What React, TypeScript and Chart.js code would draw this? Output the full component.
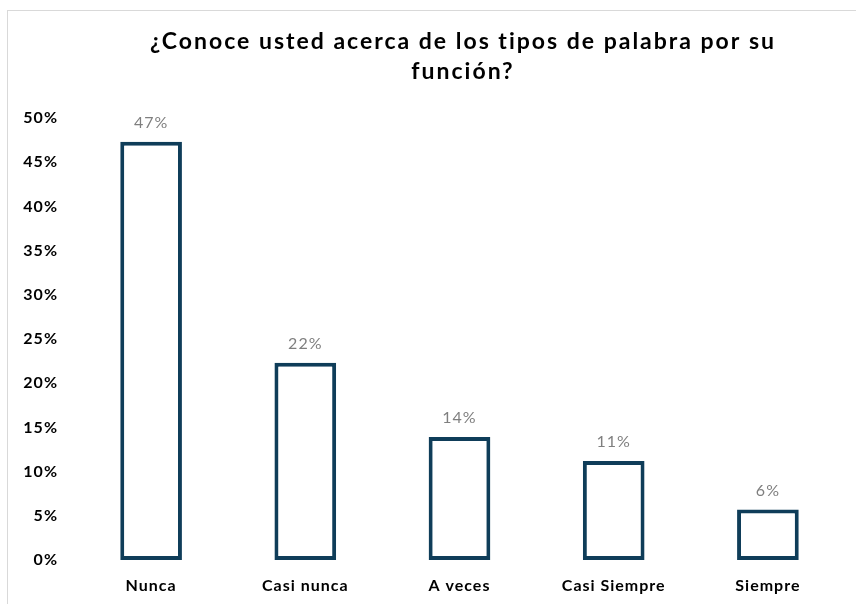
import React, { useEffect, useRef } from "react";
import { Chart, registerables } from "chart.js";

Chart.register(...registerables);

const TITLE = ["¿Conoce usted acerca de los tipos de palabra por su", "función?"];
const CATEGORIES = ["Nunca", "Casi nunca", "A veces", "Casi Siempre", "Siempre"];
const VALUES = [47.3, 22.3, 13.9, 11.2, 5.7];
const VALUE_LABELS = ["47%", "22%", "14%", "11%", "6%"];

const FONT = "Lato, 'Open Sans', sans-serif";

const spacingPlugin = {
  id: "letterSpacing",
  beforeInit(chart: any) {
    chart.ctx.letterSpacing = "1px";
  },
  beforeLayout(chart: any) {
    chart.ctx.letterSpacing = "1px";
  },
  beforeDraw(chart: any) {
    chart.ctx.letterSpacing = "1px";
  },
};

const titlePlugin = {
  id: "customTitle",
  afterDraw(chart: any) {
    const ctx = chart.ctx;
    ctx.save();
    ctx.letterSpacing = "2px";
    ctx.font = `700 23px ${FONT}`;
    ctx.fillStyle = "#000000";
    ctx.textAlign = "center";
    ctx.textBaseline = "middle";
    TITLE.forEach((line, i) => {
      ctx.fillText(line, 463, 42 + i * 30);
    });
    ctx.restore();
  },
};

const valueLabelPlugin = {
  id: "valueLabels",
  afterDatasetsDraw(chart: any) {
    const ctx = chart.ctx;
    const meta = chart.getDatasetMeta(0);
    ctx.save();
    ctx.letterSpacing = "1px";
    ctx.font = `400 16px ${FONT}`;
    ctx.fillStyle = "#7f7f7f";
    ctx.textAlign = "center";
    ctx.textBaseline = "bottom";
    meta.data.forEach((el: any, i: number) => {
      ctx.fillText(VALUE_LABELS[i], el.x, el.y - 11);
    });
    ctx.restore();
  },
};

export default function App() {
  const ref = useRef<HTMLCanvasElement | null>(null);
  useEffect(() => {
    if (!ref.current) return;
    const chart = new Chart(ref.current, {
      type: "bar",
      data: {
        labels: CATEGORIES,
        datasets: [
          {
            data: VALUES,
            backgroundColor: "#ffffff",
            borderColor: "#0f3d59",
            borderWidth: 4,
            borderSkipped: false,
            categoryPercentage: 1,
            barPercentage: 0.4,
          },
        ],
      },
      options: {
        animation: false,
        responsive: false,
        maintainAspectRatio: false,
        layout: { padding: { left: 10, right: 11, top: 118, bottom: 10 } },
        plugins: {
          legend: { display: false },
          tooltip: { enabled: false },
          title: { display: false },
        },
        scales: {
          x: {
            grid: { display: false, drawTicks: false },
            border: { display: false },
            ticks: {
              color: "#000000",
              font: { family: FONT, size: 16, weight: "bold" },
              padding: 16,
            },
            afterFit: (scale: any) => {
              scale.height = 34;
            },
          },
          y: {
            min: 0,
            max: 50,
            grid: { display: false, drawTicks: false },
            border: { display: false },
            ticks: {
              stepSize: 5,
              color: "#000000",
              font: { family: FONT, size: 16, weight: "bold" },
              padding: 16,
              callback: (v: any) => `${v}%`,
            },
            afterFit: (scale: any) => {
              scale.width = 64;
            },
          },
        },
      },
      plugins: [spacingPlugin, valueLabelPlugin, titlePlugin],
    });
    return () => chart.destroy();
  }, []);

  return (
    <div style={{ position: "fixed", left: 0, top: 0, width: 856, height: 604, background: "#fff", overflow: "hidden" }}>
      <div
        style={{
          position: "absolute",
          left: 7,
          top: 10,
          width: 870,
          height: 620,
          border: "1px solid #d9d9d9",
        }}
      />
      <canvas ref={ref} width={856} height={604} style={{ position: "absolute", left: 0, top: 0 }} />
    </div>
  );
}
